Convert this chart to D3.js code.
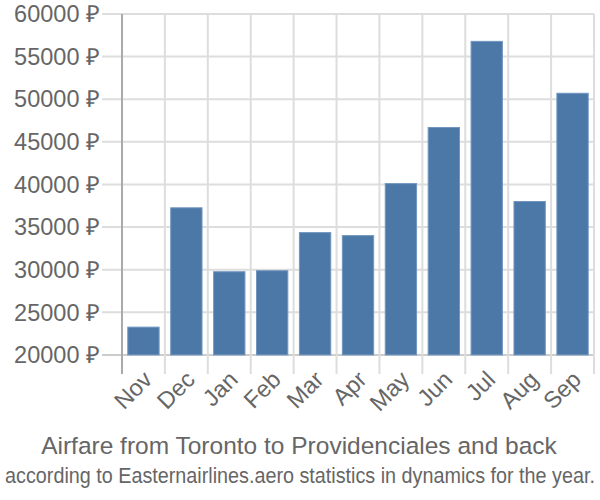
<!DOCTYPE html>
<html>
<head>
<meta charset="utf-8">
<script src="https://cdn.jsdelivr.net/npm/d3@7"></script>
<style>
  body { margin: 0; background: #fff; }
  text { font-family: "Liberation Sans", Arial, sans-serif; fill: #666; }
</style>
</head>
<body>
<svg width="600" height="500"></svg>
<script>
const months = ["Nov", "Dec", "Jan", "Feb", "Mar", "Apr", "May", "Jun", "Jul", "Aug", "Sep"];
const prices = [23260, 37260, 29760, 29880, 34350, 34000, 40100, 46680, 56790, 38000, 50700];
const yTicks = [20000, 25000, 30000, 35000, 40000, 45000, 50000, 55000, 60000];

const width = 600, height = 500;
const margin = {top: 14, right: 6, bottom: 126, left: 122};

const svg = d3.select("svg");

const x = d3.scaleBand()
    .domain(months)
    .range([margin.left, width - margin.right])
    .padding(0);

const y = d3.scaleLinear()
    .domain([17760, 60000])
    .range([height - margin.bottom, margin.top]);

// horizontal grid
svg.append("g")
  .selectAll("line")
  .data(yTicks)
  .join("line")
    .attr("x1", margin.left - 20)
    .attr("x2", width - margin.right)
    .attr("y1", d => y(d))
    .attr("y2", d => y(d))
    .attr("stroke", d => d === 20000 ? "#ccc" : "#ddd")
    .attr("stroke-width", 2);

// vertical grid at band edges
svg.append("g")
  .selectAll("line")
  .data(months.slice(1).concat(["end"]))
  .join("line")
    .attr("x1", (d, i) => x.range()[0] + (i + 1) * x.step())
    .attr("x2", (d, i) => x.range()[0] + (i + 1) * x.step())
    .attr("y1", margin.top)
    .attr("y2", height - margin.bottom)
    .attr("stroke", "#ddd")
    .attr("stroke-width", 2);

// y axis line
svg.append("line")
    .attr("x1", margin.left).attr("x2", margin.left)
    .attr("y1", margin.top).attr("y2", height - margin.bottom)
    .attr("stroke", "#aaa")
    .attr("stroke-width", 2);

// bars
const inset = x.step() * 0.135;
svg.append("g")
  .selectAll("rect")
  .data(months.map((m, i) => ({m, v: prices[i]})))
  .join("rect")
    .attr("x", d => x(d.m) + inset)
    .attr("width", x.step() - 2 * inset)
    .attr("y", d => y(d.v))
    .attr("height", d => y(20000) - y(d.v))
    .attr("fill", "#4c78a8")
    .attr("stroke", "#7296bf")
    .attr("stroke-width", 1);

// y labels
svg.append("g")
  .selectAll("text")
  .data(yTicks)
  .join("text")
    .attr("x", margin.left - 22)
    .attr("y", d => y(d))
    .attr("dy", "0.35em")
    .attr("text-anchor", "end")
    .attr("font-size", 23.5)
    .text(d => d + " ₽");

// x labels
svg.append("g")
  .selectAll("text")
  .data(months)
  .join("text")
    .attr("text-anchor", "end")
    .attr("font-size", 23.5)
    .attr("transform", d => `translate(${x(d) + x.bandwidth() / 2 + 10},${height - margin.bottom + 7}) rotate(-45)`)
    .text(d => d);

// title
svg.append("text")
    .attr("x", width / 2 - 1)
    .attr("y", 454)
    .attr("text-anchor", "middle")
    .attr("font-size", 24.5)
    .text("Airfare from Toronto to Providenciales and back");

// subtitle, squeezed horizontally like the original
const sub = svg.append("text")
    .attr("x", 0)
    .attr("y", 0)
    .attr("text-anchor", "middle")
    .attr("font-size", 22)
    .text("according to Easternairlines.aero statistics in dynamics for the year.");
const subLen = sub.node().getComputedTextLength();
sub.attr("transform", `translate(${width / 2},483) scale(${590 / subLen},1)`);
</script>
</body>
</html>
